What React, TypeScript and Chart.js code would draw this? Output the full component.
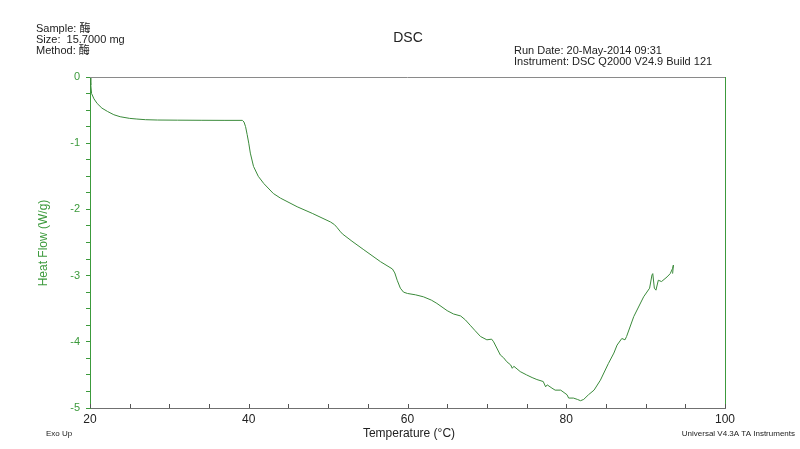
import React, { useEffect, useRef } from "react";
import { Chart, registerables } from "chart.js";

Chart.register(...registerables);

const temperature = [
  20.0, 20.1, 20.2, 20.5, 20.9, 21.5, 22.2, 23.0, 23.8, 25.0, 25.9, 27.0, 28.5, 31, 34, 37, 39.2, 39.4, 39.6, 39.8,
  40.0, 40.2, 40.6, 41.2, 41.9, 43.1, 44.0, 46.1, 48.0, 50.3, 50.8, 51.1, 51.5, 51.8, 53.0, 54.5, 56.6, 58.1, 58.4, 58.7,
  59.1, 59.5, 60.0, 61.0, 62.0, 63.0, 63.7, 65.0, 65.8, 66.7, 67.3, 67.9, 68.5, 69.2, 70.0, 70.6, 70.85, 71.7, 72.1, 72.5,
  73.0, 73.2, 73.4, 74.2, 75.0, 75.7, 76.3, 77.1, 77.4, 77.6, 78.2, 78.6, 79.3, 80.1, 80.3, 80.9, 81.4, 81.8, 82.2, 82.8,
  83.5, 84.3, 85.3, 86.0, 86.4, 87.0, 87.4, 87.6, 88.5, 89.75, 90.5, 90.8, 90.9, 91.1, 91.3, 91.6, 92.0, 92.7, 93.1, 93.4,
  93.5, 93.4,
];
const heatFlow = [
  0, -0.12, -0.25, -0.33, -0.4, -0.47, -0.52, -0.57, -0.6, -0.625, -0.635, -0.645, -0.65, -0.652, -0.654, -0.655, -0.655, -0.68, -0.75, -0.87,
  -1.0, -1.15, -1.35, -1.5, -1.61, -1.76, -1.83, -1.96, -2.06, -2.19, -2.23, -2.27, -2.33, -2.37, -2.48, -2.61, -2.79, -2.9, -2.96, -3.07,
  -3.19, -3.25, -3.27, -3.29, -3.32, -3.37, -3.42, -3.53, -3.58, -3.61, -3.67, -3.75, -3.83, -3.92, -3.97, -3.96, -4.0, -4.2, -4.24, -4.3,
  -4.35, -4.4, -4.37, -4.45, -4.5, -4.54, -4.57, -4.6, -4.68, -4.65, -4.7, -4.73, -4.73, -4.8, -4.85, -4.85, -4.87, -4.89, -4.87, -4.8,
  -4.73, -4.58, -4.33, -4.17, -4.05, -3.95, -3.97, -3.92, -3.62, -3.32, -3.19, -2.99, -2.97, -3.19, -3.22, -3.07, -3.09, -3.02, -2.97, -2.89,
  -2.84, -2.97,
];

const headerLeft = ["Sample: 酶", "Size:  15.7000 mg", "Method: 酶"];
const headerRight = ["Run Date: 20-May-2014 09:31", "Instrument: DSC Q2000 V24.9 Build 121"];
const chartTitle = "DSC";
const xTitle = "Temperature (°C)";
const yTitle = "Heat Flow (W/g)";
const footLeft = "Exo Up";
const footRight = "Universal V4.3A TA Instruments";

const FONT = "'Liberation Sans', Arial, 'Noto Sans CJK SC', sans-serif";
const GREEN = "#3c9a3c";
const LINE = "#3a8a3a";

const decorPlugin = {
  id: "decor",
  afterDraw(chart: any) {
    const ctx = chart.ctx as CanvasRenderingContext2D;
    const a = chart.chartArea;
    const xs = chart.scales.x;
    ctx.save();
    ctx.lineWidth = 1;
    ctx.strokeStyle = "#8a8a8a";
    ctx.beginPath();
    ctx.moveTo(a.left, Math.round(a.top) + 0.5);
    ctx.lineTo(a.right, Math.round(a.top) + 0.5);
    ctx.stroke();
    ctx.strokeStyle = GREEN;
    ctx.beginPath();
    ctx.moveTo(Math.round(a.right) + 0.5, a.top);
    ctx.lineTo(Math.round(a.right) + 0.5, a.bottom);
    ctx.stroke();
    ctx.strokeStyle = "#555";
    for (let v = 20; v <= 100; v += 5) {
      const px = Math.round(xs.getPixelForValue(v)) + 0.5;
      ctx.beginPath();
      ctx.moveTo(px, a.bottom);
      ctx.lineTo(px, a.bottom - 4);
      ctx.stroke();
    }
    ctx.textBaseline = "middle";
    ctx.fillStyle = "#222";
    ctx.font = `11px ${FONT}`;
    ctx.textAlign = "left";
    headerLeft.forEach((t, i) => ctx.fillText(t, 36, 29 + i * 11));
    headerRight.forEach((t, i) => ctx.fillText(t, 514, 50.5 + i * 11));
    ctx.font = `14px ${FONT}`;
    ctx.textAlign = "center";
    ctx.fillText(chartTitle, 408, 38);
    ctx.font = `12px ${FONT}`;
    ctx.fillText(xTitle, 409, 434);
    ctx.font = `8px ${FONT}`;
    ctx.textAlign = "left";
    ctx.fillText(footLeft, 46, 434);
    ctx.textAlign = "right";
    ctx.fillText(footRight, 795, 434);
    ctx.save();
    ctx.translate(44, 243);
    ctx.rotate(-Math.PI / 2);
    ctx.textAlign = "center";
    ctx.fillStyle = GREEN;
    ctx.font = `12px ${FONT}`;
    ctx.fillText(yTitle, 0, 0);
    ctx.restore();
    ctx.restore();
  },
};

export default function App() {
  const ref = useRef<HTMLCanvasElement | null>(null);
  useEffect(() => {
    if (!ref.current) return;
    const data = temperature.map((t, i) => ({ x: t, y: heatFlow[i] }));
    const chart = new Chart(ref.current, {
      type: "line",
      data: {
        datasets: [
          {
            data,
            borderColor: LINE,
            borderWidth: 1,
            pointRadius: 0,
            tension: 0,
            fill: false,
          },
        ],
      },
      options: {
        animation: false,
        responsive: false,
        maintainAspectRatio: false,
        layout: { padding: { left: 0, top: 77, right: 75, bottom: 0 } },
        plugins: { legend: { display: false }, tooltip: { enabled: false }, title: { display: false } },
        scales: {
          x: {
            type: "linear",
            min: 20,
            max: 100,
            afterFit: (s: any) => {
              s.height = 41;
            },
            grid: { drawOnChartArea: false, drawTicks: false },
            border: { color: "#707070", width: 1 },
            ticks: {
              stepSize: 20,
              padding: 4,
              color: "#222",
              font: { family: FONT, size: 12 },
              maxRotation: 0,
            },
          },
          y: {
            type: "linear",
            min: -5,
            max: 0,
            afterFit: (s: any) => {
              s.width = 90;
            },
            grid: { drawOnChartArea: false, drawTicks: true, tickLength: 4, color: GREEN },
            border: { color: GREEN, width: 1 },
            ticks: {
              stepSize: 0.25,
              padding: 6,
              color: GREEN,
              font: { family: FONT, size: 11 },
              autoSkip: false,
              callback: (v: any) => (Math.abs(v - Math.round(v)) < 1e-6 ? String(Math.round(v)) : ""),
            },
          },
        },
      },
      plugins: [decorPlugin],
    });
    return () => chart.destroy();
  }, []);
  return (
    <div style={{ position: "fixed", left: 0, top: 0, width: 800, height: 449, background: "#fff" }}>
      <canvas ref={ref} width={800} height={449} style={{ width: 800, height: 449 }} />
    </div>
  );
}
